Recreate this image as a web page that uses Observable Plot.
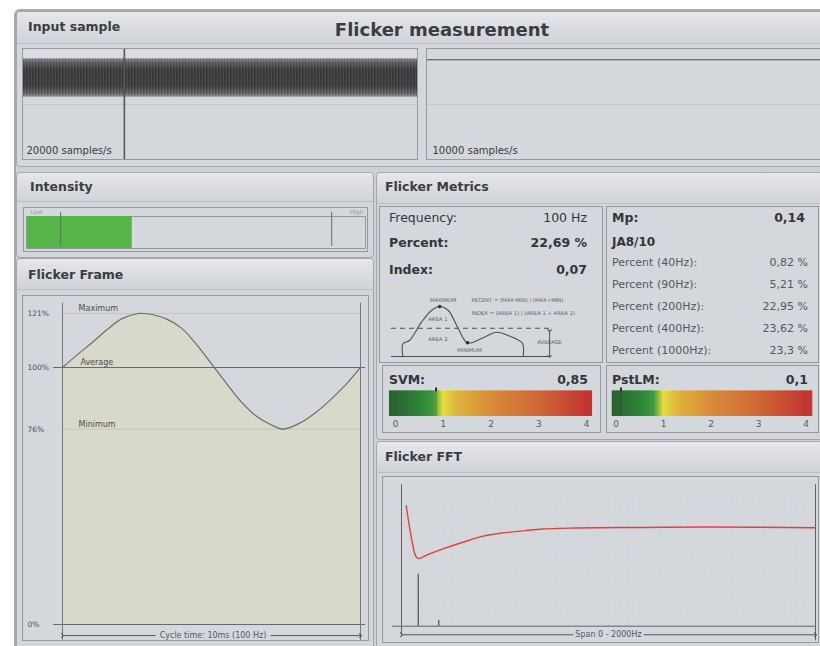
<!DOCTYPE html>
<html>
<head>
<meta charset="utf-8">
<title>Flicker measurement</title>
<script src="https://cdn.jsdelivr.net/npm/d3@7"></script>
<script src="https://cdn.jsdelivr.net/npm/@observablehq/plot@0.6"></script>
<style>
  html, body { margin: 0; padding: 0; background: #ffffff; }
  #app { position: relative; width: 820px; height: 646px; overflow: hidden; font-family: "DejaVu Sans", Verdana, sans-serif; color: #3a3d41; }
  #app div { position: absolute; box-sizing: border-box; }
  .frame { background: #cdd0d4; border: 2px solid #a6aaaf; border-radius: 6px; }
  .panel { background: #d3d6da; border: 1px solid #a4a8ad; border-radius: 4px; }
  .head { left: 0; right: 0; top: 0; background: linear-gradient(#e5e7ea, #d0d3d7); border-bottom: 1px solid #bcc0c4; border-radius: 4px 4px 0 0; }
  .box { border: 1px solid #969a9f; background: #d4d7db; }
  .t { white-space: nowrap; line-height: 1; }
  svg { position: absolute; }
</style>
</head>
<body>
<div id="app"></div>
<script>
// ---------- values shown on the dashboard ----------
const titleText = "Flicker measurement";
const panelTitles = ["Input sample", "Intensity", "Flicker Frame", "Flicker Metrics", "Flicker FFT"];

// input sample traces
const inputSpanMs = [0, 100];
const inputEnvelope = [-1, 1];
const inputCursorMs = 25.6;
const inputGuide = -1.38;
const inputRates = ["20000 samples/s", "10000 samples/s"];
const secondTraceMs = [0, 100];
const secondTraceLevel = [0.95, 0.95];

// intensity meter (0 = low, 1 = high)
const intensityLevel = 0.31;
const intensityLimits = [0.098, 0.9];
const intensityLimitNames = ["Low", "High"];

// one flicker cycle, % of average light output
const frameTimeMs = [0, 0.5, 1, 1.5, 2, 2.5, 2.7, 3, 3.5, 4, 4.5, 5, 5.5, 6, 6.5, 7, 7.4, 8, 8.5, 9, 9.5, 10];
const frameLevel = [100, 105, 109.7, 114.8, 119, 120.9, 121, 120.6, 118.8, 115.2, 108.9, 101.4, 93.8, 86.6, 81.1, 77.7, 76, 78.6, 82.5, 87.5, 93.2, 100];
const frameRefValues = [121, 100, 76];
const frameRefNames = ["Maximum", "Average", "Minimum"];
const frameTicks = [121, 100, 76, 0];
const frameCaption = "Cycle time: 10ms (100 Hz)";

// metrics
const metricNames = ["Frequency:", "Percent:", "Index:"];
const metricValues = ["100 Hz", "22,69 %", "0,07"];
const mpName = "Mp:";
const mpValue = "0,14";
const jaTitle = "JA8/10";
const jaNames = ["Percent (40Hz):", "Percent (90Hz):", "Percent (200Hz):", "Percent (400Hz):", "Percent (1000Hz):"];
const jaValues = ["0,82 %", "5,21 %", "22,95 %", "23,62 %", "23,3 %"];

// SVM / PstLM scores
const scoreNames = ["SVM:", "PstLM:"];
const scoreValues = [0.85, 0.1];
const scoreTicks = [0, 1, 2, 3, 4];

// FFT: limit curve and spectral peaks
const fftHz = [23, 35, 52, 68, 81, 132, 197, 293, 390, 486, 599, 680, 841, 1163, 1483, 2000];
const fftLimit = [85.7, 73.8, 59.5, 50, 48.1, 51.2, 54.8, 59.5, 63.8, 66.2, 67.9, 69.1, 69.8, 70.2, 70.5, 70];
const fftPeakHz = [81, 180];
const fftPeakAmp = [36.9, 4.3];
const fftCaption = "Span 0 - 2000Hz";

// percent / index explanatory sketch (unit box 0..100)
const sketchX = [9, 9, 12, 17.6, 22.2, 26, 30, 34.6, 38.9, 45.4, 52.3, 57.7, 63.9, 64.7, 64.7];
const sketchY = [0, 25.4, 32, 68.6, 92, 100, 92, 56, 27.4, 36, 48.6, 42, 28.6, 22, 0];
const sketchExtremaX = [26, 38.9];
const sketchExtremaY = [100, 27.4];
const sketchAverage = 56.6;
const sketchSpan = [3.7, 76.9];
const sketchCentered = [
  {x: 27.6, y: 112, text: "MAXIMUM"},
  {x: 39.8, y: 13, text: "MINIMUM"},
  {x: 76.9, y: 28, text: "AVERAGE"}
];
const sketchLeft = [
  {x: 20.7, y: 75, text: "AREA 1"},
  {x: 20.7, y: 34, text: "AREA 2"},
  {x: 40.7, y: 112, text: "PECENT = (MAX-MIN) / (MAX+MIN)"},
  {x: 40.7, y: 86, text: "INDEX = (AREA 1) / (AREA 1 + AREA 2)"}
];

// ---------- helpers ----------
const app = document.getElementById("app");
const FONT = "DejaVu Sans, Verdana, sans-serif";

function block(cls, left, top, width, height, parent = app) {
  const d = document.createElement("div");
  d.className = cls;
  Object.assign(d.style, {left: left + "px", top: top + "px", width: width + "px", height: height + "px"});
  parent.appendChild(d);
  return d;
}
function panel(left, top, width, height, headH) {
  const p = block("panel", left, top, width, height);
  const h = document.createElement("div");
  h.className = "head";
  h.style.height = headH + "px";
  p.appendChild(h);
  return p;
}
function label(text, x, cy, fs, o = {}) {
  const d = document.createElement("div");
  d.className = "t";
  d.textContent = text;
  d.style.fontSize = fs + "px";
  d.style.top = (cy - 0.48 * fs) + "px";
  if (o.right != null) d.style.right = (820 - o.right) + "px";
  else d.style.left = x + "px";
  if (o.center) d.style.transform = "translateX(-50%)";
  if (o.bold) d.style.fontWeight = "bold";
  if (o.color) d.style.color = o.color;
  app.appendChild(d);
  return d;
}
function place(svg, left, top) {
  svg.style.left = left + "px";
  svg.style.top = top + "px";
  svg.style.position = "absolute";
  app.appendChild(svg);
  return svg;
}
function addDefs(svg, html) {
  d3.select(svg).insert("defs", ":first-child").html(html);
}
const base = {style: {background: "transparent", fontFamily: FONT, overflow: "visible"}};

// ---------- panels ----------
block("frame", 14, 9, 820, 650);
panel(16, 11, 810, 156, 32);
panel(16, 172, 358, 86, 29);
panel(16, 258, 358, 392, 31);
panel(376, 172, 450, 268, 31);
panel(376, 441, 450, 210, 31);

label(panelTitles[0], 28, 26.5, 12.5, {bold: true});
label(titleText, 442, 30, 18, {bold: true, center: true});
label(panelTitles[1], 30, 186.7, 12.5, {bold: true});
label(panelTitles[2], 28, 275, 12.5, {bold: true});
label(panelTitles[3], 385, 187, 12.5, {bold: true});
label(panelTitles[4], 385, 456.7, 12.5, {bold: true});

// ---------- input sample ----------
block("box", 22, 48, 396, 112);
block("box", 426, 48, 400, 112);

const inLeft = Plot.plot({
  ...base, width: 394, height: 110, margin: 0,
  x: {domain: inputSpanMs, axis: null},
  y: {domain: [-4.245, 1.484], axis: null},
  marks: [
    Plot.rect([inputEnvelope], {x1: inputSpanMs[0], x2: inputSpanMs[1], y1: 1, y2: 1.484, fill: "#d9dce0"}),
    Plot.rect([inputEnvelope], {x1: inputSpanMs[0], x2: inputSpanMs[1], y1: d => d[0], y2: d => d[1], fill: "url(#band)"}),
    Plot.rect([inputEnvelope], {x1: inputSpanMs[0], x2: inputSpanMs[1], y1: d => d[0], y2: d => d[1], fill: "url(#hatch)"}),
    Plot.ruleY([inputGuide], {stroke: "#c4c7cb"}),
    Plot.ruleX([inputCursorMs], {stroke: "#56595c", strokeWidth: 1.6}),
    Plot.text([inputRates[0]], {x: inputSpanMs[0], y: -3.8, dx: 3, text: d => d, textAnchor: "start", fontSize: 10, fill: "#3a3d40"})
  ]
});
addDefs(inLeft, `
  <linearGradient id="band" x1="0" y1="0" x2="0" y2="1">
    <stop offset="0" stop-color="#8c8e91"/><stop offset="0.12" stop-color="#5a5b5d"/>
    <stop offset="0.3" stop-color="#3e3f40"/><stop offset="0.72" stop-color="#3f4041"/>
    <stop offset="0.9" stop-color="#606264"/><stop offset="1" stop-color="#939598"/>
  </linearGradient>
  <pattern id="hatch" width="3" height="6" patternUnits="userSpaceOnUse">
    <rect x="0" y="0" width="1" height="6" fill="#000" fill-opacity="0.12"/>
    <rect x="2" y="0" width="1" height="6" fill="#fff" fill-opacity="0.05"/>
  </pattern>`);
place(inLeft, 23, 49);

const inRight = Plot.plot({
  ...base, width: 393, height: 110, margin: 0,
  x: {domain: secondTraceMs, axis: null},
  y: {domain: [-4.245, 1.484], axis: null},
  marks: [
    Plot.ruleY([inputGuide], {stroke: "#c4c7cb"}),
    Plot.line(secondTraceMs.map((t, i) => ({t, v: secondTraceLevel[i]})), {x: "t", y: "v", stroke: "#4a4c4f", strokeWidth: 1.2}),
    Plot.text([inputRates[1]], {x: secondTraceMs[0], y: -3.8, dx: 5, text: d => d, textAnchor: "start", fontSize: 10, fill: "#3a3d40"})
  ]
});
place(inRight, 427, 49);

// ---------- intensity ----------
block("box", 23, 207, 345, 45);
block("box", 26, 216, 340, 33);
const intensity = Plot.plot({
  ...base, width: 341, height: 45, marginLeft: 1, marginRight: 2, marginTop: 0, marginBottom: 0,
  x: {domain: [0, 1], axis: null},
  y: {domain: [0, 1], range: [42, 10], axis: null},
  marks: [
    Plot.rect([intensityLevel], {x1: 0, x2: d => d, y1: 0, y2: 1, fill: "#55b548"}),
    Plot.ruleX(intensityLimits, {y1: 0.06, y2: 1.13, stroke: "#6b6e72"}),
    Plot.text([intensityLimitNames[0]], {x: 0, y: 1.125, dx: 3, text: d => d, textAnchor: "start", fontSize: 6, fill: "#9a9da1"}),
    Plot.text([intensityLimitNames[1]], {x: 0.994, y: 1.125, text: d => d, textAnchor: "end", fontSize: 6, fill: "#9a9da1"})
  ]
});
place(intensity, 26, 206);

// ---------- flicker frame ----------
block("box", 22, 295, 347, 346);
const frameRows = frameTimeMs.map((t, i) => ({t, v: frameLevel[i]}));
const frameRefs = frameRefValues.map((v, i) => ({v, name: frameRefNames[i], t: i === 1 ? 0.6 : 0.54}));
const frame = Plot.plot({
  ...base, width: 346, height: 345, marginLeft: 40, marginRight: 8, marginTop: 18, marginBottom: 16,
  x: {domain: [0, 10], axis: null},
  y: {domain: [0, 121], axis: null},
  marks: [
    Plot.areaY(frameRows, {x: "t", y: "v", fill: "#d8d9ca", curve: "catmull-rom"}),
    Plot.ruleY([frameRefValues[0], frameRefValues[2]], {x1: 0, x2: 10, stroke: "#c3c5bd"}),
    Plot.ruleY([0, frameRefValues[1]], {x1: -0.3, x2: 10.17, stroke: "#686b6e", strokeWidth: 1.2}),
    Plot.line(frameRows, {x: "t", y: "v", stroke: "#6c6e6b", strokeWidth: 1.2, curve: "catmull-rom"}),
    Plot.ruleX([0, 10], {y1: -6.2, y2: 125, stroke: "#74777a"}),
    Plot.text(frameTicks, {x: 0, y: d => d, dx: -35, text: d => d + "%", textAnchor: "start", fontSize: 7.5, fill: "#4a4d50"}),
    Plot.text(frameRefs, {x: "t", y: "v", dy: -5, text: "name", textAnchor: "start", fontSize: 8, fill: "#4a4d50"}),
    Plot.link([[0, 3.12]], {x1: d => d[0], x2: d => d[1], y1: -4.3, y2: -4.3, stroke: "#55585b", markerStart: "arrow"}),
    Plot.link([[6.98, 10]], {x1: d => d[0], x2: d => d[1], y1: -4.3, y2: -4.3, stroke: "#55585b", markerEnd: "arrow"}),
    Plot.text([frameCaption], {x: 5.05, y: -4.3, text: d => d, fontSize: 8, fill: "#55585b"})
  ]
});
place(frame, 22, 295);

// ---------- flicker metrics ----------
block("box", 379, 206, 224, 157);
block("box", 606, 206, 213, 157);
block("box", 382, 365, 219, 68);
block("box", 606, 365, 213, 68);

const metricY = [218.3, 243.3, 269.7];
metricNames.forEach((n, i) => {
  label(n, 389, metricY[i], 12.5, {bold: i > 0, color: "#333639"});
  label(metricValues[i], 0, metricY[i], 12.5, {right: 587, bold: i > 0, color: "#333639"});
});
label(mpName, 612, 218.3, 12.5, {bold: true, color: "#333639"});
label(mpValue, 0, 218.3, 12.5, {right: 805, bold: true, color: "#333639"});
label(jaTitle, 612, 241.3, 12, {bold: true, color: "#333639"});
const jaY = [262.5, 284.5, 306.5, 328.5, 350.5];
jaNames.forEach((n, i) => {
  label(n, 612, jaY[i], 11, {color: "#55585c"});
  label(jaValues[i], 0, jaY[i], 11, {right: 808, color: "#55585c"});
});

const sketch = Plot.plot({
  ...base, width: 216, height: 70, marginLeft: 0, marginRight: 0, marginTop: 16, marginBottom: 4,
  x: {domain: [0, 100], axis: null},
  y: {domain: [0, 100], axis: null},
  marks: [
    Plot.ruleY([0], {x1: sketchSpan[0], x2: sketchSpan[1], stroke: "#4d5053", strokeWidth: 1.2}),
    Plot.ruleY([sketchAverage], {x1: sketchSpan[0], x2: sketchSpan[1], stroke: "#4d5053", strokeWidth: 1.1, strokeDasharray: "5,4"}),
    Plot.link([sketchAverage], {x1: sketchSpan[1], x2: sketchSpan[1], y1: d => d - 5, y2: 0, stroke: "#4d5053", markerStart: "arrow", markerEnd: "arrow"}),
    Plot.line(sketchX.map((x, i) => ({x, y: sketchY[i]})), {x: "x", y: "y", stroke: "#4d5053", strokeWidth: 1.1, curve: "catmull-rom"}),
    Plot.dot(sketchExtremaX.map((x, i) => ({x, y: sketchExtremaY[i]})), {x: "x", y: "y", r: 1.8, fill: "#2c2e30"}),
    Plot.text(sketchCentered, {x: "x", y: "y", text: "text", textAnchor: "middle", fontSize: 5.3, fill: "#5d6063"}),
    Plot.text(sketchLeft, {x: "x", y: "y", text: "text", textAnchor: "start", fontSize: 5.3, fill: "#5d6063"})
  ]
});
place(sketch, 383, 290);

// ---------- SVM / PstLM gradient bars ----------
const stops = [[0, "#2b6331"], [0.55, "#2f8738"], [0.8, "#3d9a3f"], [1.0, "#e2df3b"], [1.3, "#deb43c"], [2.0, "#d88b39"], [3.0, "#cf6837"], [4.0, "#c23531"]];
function scoreBar(i, left, mL, mR, b1, b2, labelLeft, valueRight) {
  const v = scoreValues[i];
  label(scoreNames[i], labelLeft, 380.3, 12.5, {bold: true, color: "#333639"});
  label(String(v).replace(".", ","), 0, 380.3, 12.5, {right: valueRight, bold: true, color: "#333639"});
  const id = "grad" + i;
  const svg = Plot.plot({
    ...base, width: 212, height: 46, marginLeft: mL, marginRight: mR, marginTop: 0, marginBottom: 0,
    x: {domain: [0, 4], axis: null},
    y: {domain: [0, 1], range: [30, 4], axis: null},
    marks: [
      Plot.rect([v], {x1: b1, x2: b2, y1: 0, y2: 1, fill: `url(#${id})`}),
      Plot.ruleY([1], {x1: b1, x2: b2, stroke: "#ffffff", strokeOpacity: 0.25}),
      Plot.ruleX([v], {y1: 0, y2: 1, stroke: "#1f4524", strokeOpacity: 0.45}),
      Plot.ruleX([v], {y1: 0.95, y2: 1.1, stroke: "#1c1d1e", strokeWidth: 1.8}),
      Plot.text(scoreTicks, {x: d => d, y: -0.3, text: d => String(d), fontSize: 9, fill: "#5a5d60"})
    ]
  });
  const span = b2 - b1;
  addDefs(svg, `<linearGradient id="${id}" x1="0" y1="0" x2="1" y2="0">` +
    stops.map(([s, c]) => `<stop offset="${((s - b1) / span).toFixed(4)}" stop-color="${c}"/>`).join("") +
    `</linearGradient>`);
  place(svg, left, 386);
}
scoreBar(0, 385, 10, 11, -0.126, 4.126, 389, 588);
scoreBar(1, 607, 8.7, 13.5, -0.084, 4.143, 612, 808);

// ---------- flicker FFT ----------
block("box", 382, 476, 437, 167);
const fftRows = fftHz.map((f, i) => ({f, a: fftLimit[i]}));
const fftPeaks = fftPeakHz.map((f, i) => ({f, a: fftPeakAmp[i]}));
const fft = Plot.plot({
  ...base, width: 438, height: 167, marginLeft: 19, marginRight: 5, marginTop: 10, marginBottom: 16.3,
  x: {domain: [0, 2000], axis: null},
  y: {domain: [0, 100], axis: null},
  marks: [
    Plot.ruleX(d3.range(50, 2000, 50), {y1: 0, y2: 100, stroke: "#c9ccd0", strokeOpacity: 0.5, strokeDasharray: "1,2"}),
    Plot.ruleY(d3.range(10, 101, 10), {x1: 0, x2: 2000, stroke: "#c9ccd0", strokeOpacity: 0.5, strokeDasharray: "1,2"}),
    Plot.ruleY([0], {x1: -45, x2: 2000, stroke: "#5e6164"}),
    Plot.ruleX([0], {y1: -5.9, y2: 100.5, stroke: "#5e6164"}),
    Plot.ruleX([2000], {y1: -10.5, y2: 100.5, stroke: "#5e6164"}),
    Plot.ruleX(fftPeaks, {x: "f", y1: 0, y2: "a", stroke: "#4f5255", strokeWidth: 1.2}),
    Plot.line(fftRows, {x: "f", y: "a", stroke: "#e4413b", strokeWidth: 1.4, curve: "catmull-rom"}),
    Plot.link([[0, 830]], {x1: d => d[0], x2: d => d[1], y1: -6.1, y2: -6.1, stroke: "#55585b", markerStart: "arrow"}),
    Plot.link([[1170, 2000]], {x1: d => d[0], x2: d => d[1], y1: -6.1, y2: -6.1, stroke: "#55585b", markerEnd: "arrow"}),
    Plot.text([fftCaption], {x: 1000, y: -6.1, text: d => d, fontSize: 8, fill: "#55585b"})
  ]
});
place(fft, 382, 475);
</script>
</body>
</html>
